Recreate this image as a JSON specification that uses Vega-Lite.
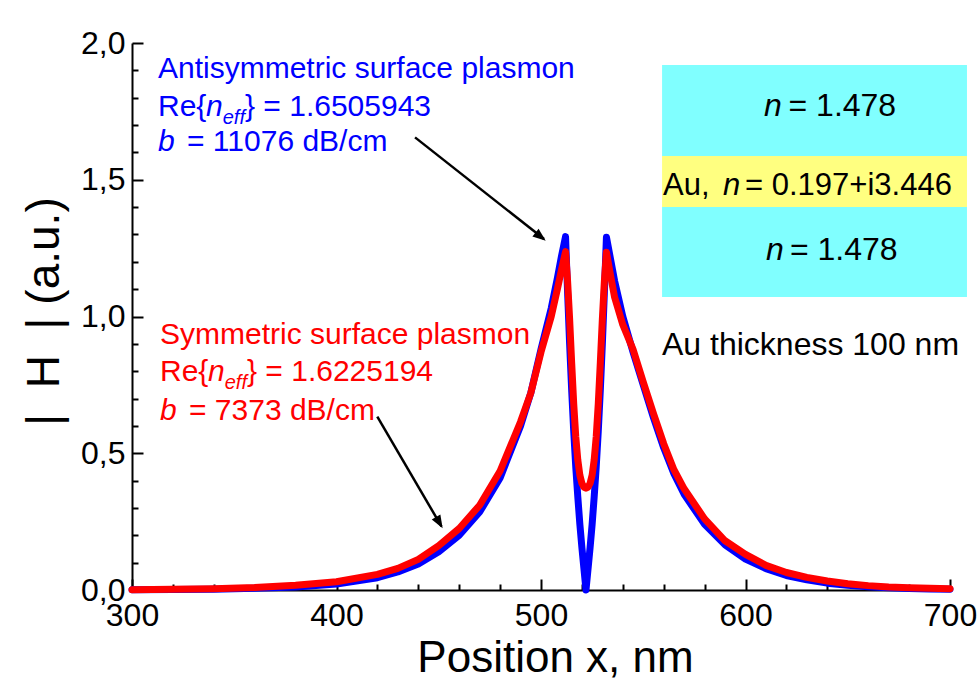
{
  "$schema": "https://vega.github.io/schema/vega-lite/v6.json",
  "width": 818,
  "height": 547,
  "autosize": "none",
  "padding": {"left": 132, "top": 43, "right": 30, "bottom": 93},
  "background": "white",
  "config": {
    "view": {"stroke": null},
    "font": "Liberation Sans",
    "axis": {
      "grid": false,
      "domainColor": "black",
      "domainWidth": 2,
      "tickColor": "black",
      "tickWidth": 2,
      "labelColor": "black",
      "labelFont": "Liberation Sans",
      "labelFontSize": 32,
      "labelFlush": false,
      "labelOverlap": false,
      "titleFont": "Liberation Sans",
      "titleFontWeight": "normal",
      "titleColor": "black"
    }
  },
  "datasets": {
    "curves": [
      {"x": 300, "H": 0.0007, "mode": "Antisymmetric"},
      {"x": 320, "H": 0.0015, "mode": "Antisymmetric"},
      {"x": 340, "H": 0.003, "mode": "Antisymmetric"},
      {"x": 360, "H": 0.006, "mode": "Antisymmetric"},
      {"x": 380, "H": 0.011, "mode": "Antisymmetric"},
      {"x": 400, "H": 0.022, "mode": "Antisymmetric"},
      {"x": 420, "H": 0.045, "mode": "Antisymmetric"},
      {"x": 430, "H": 0.066, "mode": "Antisymmetric"},
      {"x": 440, "H": 0.095, "mode": "Antisymmetric"},
      {"x": 450, "H": 0.14, "mode": "Antisymmetric"},
      {"x": 460, "H": 0.2, "mode": "Antisymmetric"},
      {"x": 470, "H": 0.285, "mode": "Antisymmetric"},
      {"x": 480, "H": 0.41, "mode": "Antisymmetric"},
      {"x": 490, "H": 0.6, "mode": "Antisymmetric"},
      {"x": 495, "H": 0.72, "mode": "Antisymmetric"},
      {"x": 500, "H": 0.88, "mode": "Antisymmetric"},
      {"x": 505, "H": 1.03, "mode": "Antisymmetric"},
      {"x": 508, "H": 1.14, "mode": "Antisymmetric"},
      {"x": 510, "H": 1.22, "mode": "Antisymmetric"},
      {"x": 512, "H": 1.292, "mode": "Antisymmetric"},
      {"x": 513, "H": 1.09, "mode": "Antisymmetric"},
      {"x": 514, "H": 0.9, "mode": "Antisymmetric"},
      {"x": 515, "H": 0.73, "mode": "Antisymmetric"},
      {"x": 516, "H": 0.58, "mode": "Antisymmetric"},
      {"x": 517, "H": 0.45, "mode": "Antisymmetric"},
      {"x": 518, "H": 0.34, "mode": "Antisymmetric"},
      {"x": 519, "H": 0.24, "mode": "Antisymmetric"},
      {"x": 520, "H": 0.155, "mode": "Antisymmetric"},
      {"x": 521, "H": 0.077, "mode": "Antisymmetric"},
      {"x": 522, "H": 0.0, "mode": "Antisymmetric"},
      {"x": 523, "H": 0.077, "mode": "Antisymmetric"},
      {"x": 524, "H": 0.155, "mode": "Antisymmetric"},
      {"x": 525, "H": 0.24, "mode": "Antisymmetric"},
      {"x": 526, "H": 0.34, "mode": "Antisymmetric"},
      {"x": 527, "H": 0.45, "mode": "Antisymmetric"},
      {"x": 528, "H": 0.58, "mode": "Antisymmetric"},
      {"x": 529, "H": 0.73, "mode": "Antisymmetric"},
      {"x": 530, "H": 0.9, "mode": "Antisymmetric"},
      {"x": 531, "H": 1.09, "mode": "Antisymmetric"},
      {"x": 532, "H": 1.29, "mode": "Antisymmetric"},
      {"x": 534, "H": 1.21, "mode": "Antisymmetric"},
      {"x": 536, "H": 1.13, "mode": "Antisymmetric"},
      {"x": 540, "H": 1.0, "mode": "Antisymmetric"},
      {"x": 545, "H": 0.87, "mode": "Antisymmetric"},
      {"x": 550, "H": 0.75, "mode": "Antisymmetric"},
      {"x": 555, "H": 0.63, "mode": "Antisymmetric"},
      {"x": 560, "H": 0.52, "mode": "Antisymmetric"},
      {"x": 565, "H": 0.425, "mode": "Antisymmetric"},
      {"x": 570, "H": 0.35, "mode": "Antisymmetric"},
      {"x": 580, "H": 0.24, "mode": "Antisymmetric"},
      {"x": 590, "H": 0.165, "mode": "Antisymmetric"},
      {"x": 600, "H": 0.113, "mode": "Antisymmetric"},
      {"x": 610, "H": 0.078, "mode": "Antisymmetric"},
      {"x": 620, "H": 0.053, "mode": "Antisymmetric"},
      {"x": 630, "H": 0.037, "mode": "Antisymmetric"},
      {"x": 640, "H": 0.025, "mode": "Antisymmetric"},
      {"x": 650, "H": 0.017, "mode": "Antisymmetric"},
      {"x": 660, "H": 0.012, "mode": "Antisymmetric"},
      {"x": 670, "H": 0.008, "mode": "Antisymmetric"},
      {"x": 680, "H": 0.0055, "mode": "Antisymmetric"},
      {"x": 690, "H": 0.004, "mode": "Antisymmetric"},
      {"x": 700, "H": 0.003, "mode": "Antisymmetric"},
      {"x": 300, "H": 0.0013, "mode": "Symmetric"},
      {"x": 320, "H": 0.0025, "mode": "Symmetric"},
      {"x": 340, "H": 0.0045, "mode": "Symmetric"},
      {"x": 360, "H": 0.009, "mode": "Symmetric"},
      {"x": 380, "H": 0.017, "mode": "Symmetric"},
      {"x": 400, "H": 0.03, "mode": "Symmetric"},
      {"x": 420, "H": 0.057, "mode": "Symmetric"},
      {"x": 430, "H": 0.079, "mode": "Symmetric"},
      {"x": 440, "H": 0.112, "mode": "Symmetric"},
      {"x": 450, "H": 0.162, "mode": "Symmetric"},
      {"x": 460, "H": 0.225, "mode": "Symmetric"},
      {"x": 470, "H": 0.31, "mode": "Symmetric"},
      {"x": 480, "H": 0.435, "mode": "Symmetric"},
      {"x": 490, "H": 0.615, "mode": "Symmetric"},
      {"x": 495, "H": 0.72, "mode": "Symmetric"},
      {"x": 500, "H": 0.87, "mode": "Symmetric"},
      {"x": 505, "H": 1.0, "mode": "Symmetric"},
      {"x": 508, "H": 1.1, "mode": "Symmetric"},
      {"x": 510, "H": 1.17, "mode": "Symmetric"},
      {"x": 512, "H": 1.237, "mode": "Symmetric"},
      {"x": 513, "H": 1.13, "mode": "Symmetric"},
      {"x": 514, "H": 0.99, "mode": "Symmetric"},
      {"x": 515, "H": 0.83, "mode": "Symmetric"},
      {"x": 516, "H": 0.68, "mode": "Symmetric"},
      {"x": 517, "H": 0.56, "mode": "Symmetric"},
      {"x": 518, "H": 0.475, "mode": "Symmetric"},
      {"x": 519, "H": 0.42, "mode": "Symmetric"},
      {"x": 520, "H": 0.39, "mode": "Symmetric"},
      {"x": 521, "H": 0.376, "mode": "Symmetric"},
      {"x": 522, "H": 0.372, "mode": "Symmetric"},
      {"x": 523, "H": 0.376, "mode": "Symmetric"},
      {"x": 524, "H": 0.39, "mode": "Symmetric"},
      {"x": 525, "H": 0.42, "mode": "Symmetric"},
      {"x": 526, "H": 0.475, "mode": "Symmetric"},
      {"x": 527, "H": 0.56, "mode": "Symmetric"},
      {"x": 528, "H": 0.68, "mode": "Symmetric"},
      {"x": 529, "H": 0.83, "mode": "Symmetric"},
      {"x": 530, "H": 0.99, "mode": "Symmetric"},
      {"x": 531, "H": 1.13, "mode": "Symmetric"},
      {"x": 532, "H": 1.235, "mode": "Symmetric"},
      {"x": 534, "H": 1.15, "mode": "Symmetric"},
      {"x": 536, "H": 1.07, "mode": "Symmetric"},
      {"x": 540, "H": 0.97, "mode": "Symmetric"},
      {"x": 545, "H": 0.88, "mode": "Symmetric"},
      {"x": 550, "H": 0.76, "mode": "Symmetric"},
      {"x": 555, "H": 0.645, "mode": "Symmetric"},
      {"x": 560, "H": 0.535, "mode": "Symmetric"},
      {"x": 565, "H": 0.44, "mode": "Symmetric"},
      {"x": 570, "H": 0.37, "mode": "Symmetric"},
      {"x": 580, "H": 0.26, "mode": "Symmetric"},
      {"x": 590, "H": 0.18, "mode": "Symmetric"},
      {"x": 600, "H": 0.13, "mode": "Symmetric"},
      {"x": 610, "H": 0.09, "mode": "Symmetric"},
      {"x": 620, "H": 0.064, "mode": "Symmetric"},
      {"x": 630, "H": 0.046, "mode": "Symmetric"},
      {"x": 640, "H": 0.033, "mode": "Symmetric"},
      {"x": 650, "H": 0.023, "mode": "Symmetric"},
      {"x": 660, "H": 0.016, "mode": "Symmetric"},
      {"x": 670, "H": 0.011, "mode": "Symmetric"},
      {"x": 680, "H": 0.008, "mode": "Symmetric"},
      {"x": 690, "H": 0.006, "mode": "Symmetric"},
      {"x": 700, "H": 0.005, "mode": "Symmetric"}
    ],
    "structure": [
      {"x": 559.2, "x2": 708.3, "y": 1.92, "y2": 1.587, "material": "dielectric"},
      {"x": 559.2, "x2": 708.3, "y": 1.587, "y2": 1.4, "material": "Au"},
      {"x": 559.2, "x2": 708.3, "y": 1.4, "y2": 1.071, "material": "dielectric"}
    ],
    "arrows": [
      {"id": "anti", "x": 438.4, "y": 1.655, "x2": 501.5, "y2": 1.283},
      {"id": "sym", "x": 419.95, "y": 0.634, "x2": 451.3, "y2": 0.233}
    ],
    "arrowTips": [
      {"id": "anti", "x": 502.3, "y": 1.277},
      {"id": "sym", "x": 451.9, "y": 0.2256}
    ],
    "annNormal": [
      {"x": 312.71, "y": 1.872, "text": "Antisymmetric surface plasmon", "grp": "anti"},
      {"x": 312.71, "y": 1.733, "text": "Re{", "grp": "anti"},
      {"x": 355.26, "y": 1.733, "text": "} = 1.6505943", "grp": "anti"},
      {"x": 326.9, "y": 1.6038, "text": "= 11076 dB/cm", "grp": "anti"},
      {"x": 313.69, "y": 0.8995, "text": "Symmetric surface plasmon", "grp": "sym"},
      {"x": 313.69, "y": 0.7642, "text": "Re{", "grp": "sym"},
      {"x": 356.23, "y": 0.7642, "text": "} = 1.6225194", "grp": "sym"},
      {"x": 327.87, "y": 0.6216, "text": "= 7373 dB/cm", "grp": "sym"}
    ],
    "annItalic": [
      {"x": 336.19, "y": 1.733, "text": "n", "grp": "anti"},
      {"x": 312.71, "y": 1.6038, "text": "b", "grp": "anti"},
      {"x": 337.16, "y": 0.7642, "text": "n", "grp": "sym"},
      {"x": 313.69, "y": 0.6216, "text": "b", "grp": "sym"}
    ],
    "annSub": [
      {"x": 344.35, "y": 1.705, "text": "eff", "grp": "anti"},
      {"x": 345.33, "y": 0.7349, "text": "eff", "grp": "sym"}
    ],
    "structNormal": [
      {"x": 621.03, "y": 1.733, "text": "= 1.478", "grp": "struct"},
      {"x": 621.76, "y": 1.2066, "text": "= 1.478", "grp": "struct"},
      {"x": 559.17, "y": 0.859, "text": "Au thickness 100 nm", "grp": "struct"}
    ],
    "structItalic": [
      {"x": 609.05, "y": 1.733, "text": "n", "grp": "struct"},
      {"x": 610.02, "y": 1.2066, "text": "n", "grp": "struct"}
    ],
    "auNormal": [
      {"x": 559.71, "y": 1.444, "text": "Au,", "grp": "struct"},
      {"x": 599.76, "y": 1.444, "text": "= 0.197+i3.446", "grp": "struct"}
    ],
    "auItalic": [
      {"x": 589.05, "y": 1.444, "text": "n", "grp": "struct"}
    ]
  },
  "encoding": {
    "x": {
      "field": "x",
      "type": "quantitative",
      "scale": {"domain": [300, 700], "nice": false, "zero": false},
      "axis": {
        "title": "Position x, nm",
        "titleFontSize": 44,
        "titlePadding": 0,
        "titleX": 423,
        "values": [300, 320, 340, 360, 380, 400, 420, 440, 460, 480, 500, 520, 540, 560, 580, 600, 620, 640, 660, 680, 700],
        "labelExpr": "datum.value % 100 === 0 ? datum.label : ''",
        "tickSize": {"condition": {"test": "datum.value % 100 === 0", "value": -11}, "value": -6},
        "labelPadding": 21
      }
    },
    "y": {
      "field": "H",
      "type": "quantitative",
      "scale": {"domain": [0, 2], "nice": false, "zero": false},
      "axis": {
        "title": "|\u00a0\u00a0H\u00a0\u00a0|\u00a0(a.u.)",
        "titleFontSize": 46,
        "titlePadding": 12,
        "titleY": 268,
        "values": [0, 0.1, 0.2, 0.3, 0.4, 0.5, 0.6, 0.7, 0.8, 0.9, 1, 1.1, 1.2, 1.3, 1.4, 1.5, 1.6, 1.7, 1.8, 1.9, 2],
        "labelExpr": "abs(datum.value * 2 - round(datum.value * 2)) < 0.001 ? replace(format(datum.value, '.1f'), '.', ',') : ''",
        "tickSize": {"condition": {"test": "abs(datum.value * 2 - round(datum.value * 2)) < 0.001", "value": -11}, "value": -6},
        "labelPadding": 18
      }
    }
  },
  "layer": [
    {
      "data": {"values": [{}]},
      "mark": {
        "type": "rect",
        "color": {
          "gradient": "radial",
          "x1": 1, "y1": 0.15, "r1": 0,
          "x2": 1, "y2": 0.15, "r2": 1.22,
          "stops": [
            {"offset": 0, "color": "#ffff66"},
            {"offset": 0.123, "color": "#f4ff7a"},
            {"offset": 0.287, "color": "#dcff98"},
            {"offset": 0.49, "color": "#b8ffc0"},
            {"offset": 0.82, "color": "#a6fdd6"},
            {"offset": 1, "color": "#9ff8e0"}
          ]
        }
      },
      "encoding": {
        "x": {"datum": 240.34},
        "x2": {"datum": 714.67},
        "y": {"datum": -0.34},
        "y2": {"datum": 2.139}
      }
    },
    {
      "data": {"name": "structure"},
      "mark": {"type": "rect"},
      "encoding": {
        "x2": {"field": "x2"},
        "y": {"field": "y", "type": "quantitative"},
        "y2": {"field": "y2"},
        "fill": {"field": "material", "type": "nominal", "scale": {"domain": ["dielectric", "Au"], "range": ["#80ffff", "#ffff80"]}, "legend": null}
      }
    },
    {
      "data": {"name": "curves"},
      "transform": [{"filter": "datum.mode === 'Antisymmetric'"}],
      "mark": {"type": "line", "color": "#0000ff", "strokeWidth": 7, "strokeJoin": "round", "strokeCap": "round"}
    },
    {
      "data": {"name": "curves"},
      "transform": [{"filter": "datum.mode === 'Symmetric'"}],
      "mark": {"type": "line", "color": "#ff0000", "strokeWidth": 7, "strokeJoin": "round", "strokeCap": "round"}
    },
    {
      "data": {"name": "arrows"},
      "mark": {"type": "rule", "color": "black", "strokeWidth": 2.5},
      "encoding": {
        "y": {"field": "y", "type": "quantitative"},
        "x2": {"field": "x2"},
        "y2": {"field": "y2"}
      }
    },
    {
      "data": {"name": "arrowTips"},
      "transform": [{"filter": "datum.id === 'anti'"}],
      "mark": {"type": "point", "shape": "M0,0L-0.77,2L0.77,2Z", "size": 169, "filled": true, "color": "black", "opacity": 1, "angle": 128.3},
      "encoding": {"y": {"field": "y", "type": "quantitative"}}
    },
    {
      "data": {"name": "arrowTips"},
      "transform": [{"filter": "datum.id === 'sym'"}],
      "mark": {"type": "point", "shape": "M0,0L-0.77,2L0.77,2Z", "size": 169, "filled": true, "color": "black", "opacity": 1, "angle": 149.6},
      "encoding": {"y": {"field": "y", "type": "quantitative"}}
    },
    {
      "data": {"name": "annNormal"},
      "mark": {"type": "text", "align": "left", "baseline": "alphabetic", "fontSize": 30, "font": "Liberation Sans"},
      "encoding": {
        "y": {"field": "y", "type": "quantitative"},
        "text": {"field": "text"},
        "color": {"field": "grp", "type": "nominal", "scale": {"domain": ["anti", "sym", "struct"], "range": ["#0000ff", "#ff0000", "#000000"]}, "legend": null}
      }
    },
    {
      "data": {"name": "annItalic"},
      "mark": {"type": "text", "align": "left", "baseline": "alphabetic", "fontSize": 30, "fontStyle": "italic", "font": "Liberation Sans"},
      "encoding": {
        "y": {"field": "y", "type": "quantitative"},
        "text": {"field": "text"},
        "color": {"field": "grp", "type": "nominal", "legend": null}
      }
    },
    {
      "data": {"name": "annSub"},
      "mark": {"type": "text", "align": "left", "baseline": "alphabetic", "fontSize": 20, "fontStyle": "italic", "font": "Liberation Sans"},
      "encoding": {
        "y": {"field": "y", "type": "quantitative"},
        "text": {"field": "text"},
        "color": {"field": "grp", "type": "nominal", "legend": null}
      }
    },
    {
      "data": {"name": "structNormal"},
      "mark": {"type": "text", "align": "left", "baseline": "alphabetic", "fontSize": 32, "font": "Liberation Sans"},
      "encoding": {
        "y": {"field": "y", "type": "quantitative"},
        "text": {"field": "text"},
        "color": {"field": "grp", "type": "nominal", "legend": null}
      }
    },
    {
      "data": {"name": "structItalic"},
      "mark": {"type": "text", "align": "left", "baseline": "alphabetic", "fontSize": 32, "fontStyle": "italic", "font": "Liberation Sans"},
      "encoding": {
        "y": {"field": "y", "type": "quantitative"},
        "text": {"field": "text"},
        "color": {"field": "grp", "type": "nominal", "legend": null}
      }
    },
    {
      "data": {"name": "auNormal"},
      "mark": {"type": "text", "align": "left", "baseline": "alphabetic", "fontSize": 31, "font": "Liberation Sans"},
      "encoding": {
        "y": {"field": "y", "type": "quantitative"},
        "text": {"field": "text"},
        "color": {"field": "grp", "type": "nominal", "legend": null}
      }
    },
    {
      "data": {"name": "auItalic"},
      "mark": {"type": "text", "align": "left", "baseline": "alphabetic", "fontSize": 31, "fontStyle": "italic", "font": "Liberation Sans"},
      "encoding": {
        "y": {"field": "y", "type": "quantitative"},
        "text": {"field": "text"},
        "color": {"field": "grp", "type": "nominal", "legend": null}
      }
    }
  ]
}
